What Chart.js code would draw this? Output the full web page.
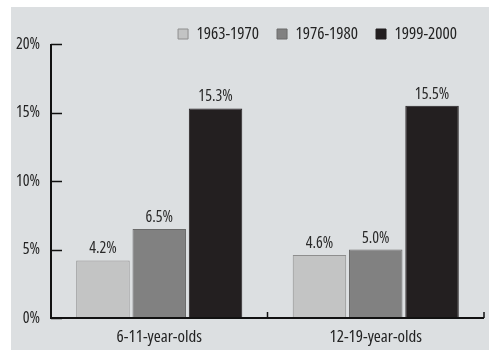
<!DOCTYPE html>
<html><head><meta charset="utf-8">
<script src="https://cdn.jsdelivr.net/npm/chart.js@4/dist/chart.umd.min.js"></script>
<style>
html,body{margin:0;padding:0;background:#fff;}
#wrap{position:absolute;left:11px;top:7px;width:478px;height:343px;background:#dcdfe1;}
canvas{display:block;}
</style></head><body>
<div id="wrap"><canvas id="c" width="478" height="343"></canvas></div>
<script>
const categories = ["6-11-year-olds", "12-19-year-olds"];
const seriesNames = ["1963-1970", "1976-1980", "1999-2000"];
const values1963 = [4.2, 4.6];
const values1976 = [6.5, 5.0];
const values1999 = [15.3, 15.5];
const yTicks = [0, 5, 10, 15, 20];

const FONT = "'Open Sans',sans-serif";
const WEIGHT = "500 condensed";

const valueLabels = {
  id: 'valueLabels',
  afterDatasetsDraw(chart) {
    const ctx = chart.ctx;
    ctx.save();
    ctx.font = WEIGHT + " 16px " + FONT;
    ctx.fillStyle = "#2a2a2a";
    ctx.textAlign = "center";
    ctx.textBaseline = "alphabetic";
    chart.data.datasets.forEach((ds, i) => {
      chart.getDatasetMeta(i).data.forEach((bar, j) => {
        ctx.fillText(ds.data[j].toFixed(1) + "%", bar.x, bar.y - 7);
      });
    });
    ctx.restore();
  }
};

const axesDraw = {
  id: 'axesDraw',
  afterLayout(chart) {
    const lg = chart.legend;
    if (lg) {
      const dy = 0.5 - lg.top;
      lg.top += dy; lg.bottom += dy;
      lg.right -= 9;
    }
  },
  afterDatasetsDraw(chart) {
    const ctx = chart.ctx;
    const x = chart.scales.x, y = chart.scales.y;
    const a = chart.chartArea;
    ctx.save();
    ctx.strokeStyle = "#111";
    ctx.lineWidth = 2;
    ctx.beginPath();
    ctx.moveTo(a.left, y.getPixelForValue(20));
    ctx.lineTo(a.left, a.bottom);
    ctx.lineTo(a.right, a.bottom);
    ctx.stroke();
    ctx.lineWidth = 1.5;
    yTicks.forEach(v => {
      const py = Math.round(y.getPixelForValue(v)) + 0.5;
      ctx.beginPath();
      ctx.moveTo(a.left, py);
      ctx.lineTo(a.left + 11, py);
      ctx.stroke();
    });
    for (let i = 1; i <= categories.length; i++) {
      const px = (i < categories.length)
        ? (x.getPixelForValue(i - 1) + x.getPixelForValue(i)) / 2
        : a.right;
      ctx.beginPath();
      ctx.moveTo(px, a.bottom);
      ctx.lineTo(px, a.bottom - 6);
      ctx.stroke();
    }
    ctx.restore();
  }
};

new Chart(document.getElementById('c'), {
  type: 'bar',
  data: {
    labels: categories,
    datasets: [
      {label: seriesNames[0], data: values1963, backgroundColor: "#c3c4c4", borderColor: "#8e8e8e", borderWidth: 1},
      {label: seriesNames[1], data: values1976, backgroundColor: "#818181", borderColor: "#6a6a6a", borderWidth: 1},
      {label: seriesNames[2], data: values1999, backgroundColor: "#231f20", borderColor: "#231f20", borderWidth: 1}
    ]
  },
  options: {
    responsive: false,
    animation: false,
    devicePixelRatio: 1,
    layout: {padding: {left: 0, right: 5, top: -8, bottom: 0}},
    datasets: {bar: {categoryPercentage: 0.78, barPercentage: 0.95}},
    plugins: {
      legend: {
        display: true,
        position: 'top',
        align: 'end',
        labels: {
          boxWidth: 10, boxHeight: 10, padding: 18,
          color: "#222",
          font: {family: FONT, size: 17, weight: WEIGHT}
        }
      },
      tooltip: {enabled: false}
    },
    scales: {
      x: {
        grid: {display: false, drawTicks: false},
        border: {display: false},
        ticks: {color: "#222", font: {family: FONT, size: 17, weight: WEIGHT}, padding: 9},
        afterFit(s) { s.height = 32; }
      },
      y: {
        min: 0, max: 20,
        afterBuildTicks(s) { s.ticks = yTicks.map(v => ({value: v})); },
        grid: {display: false, drawTicks: false},
        border: {display: false},
        ticks: {color: "#222", font: {family: FONT, size: 16, weight: WEIGHT}, padding: 11, callback: v => v + "%"},
        afterFit(s) { s.width = 40; }
      }
    }
  },
  plugins: [valueLabels, axesDraw]
});
</script>
</body></html>
